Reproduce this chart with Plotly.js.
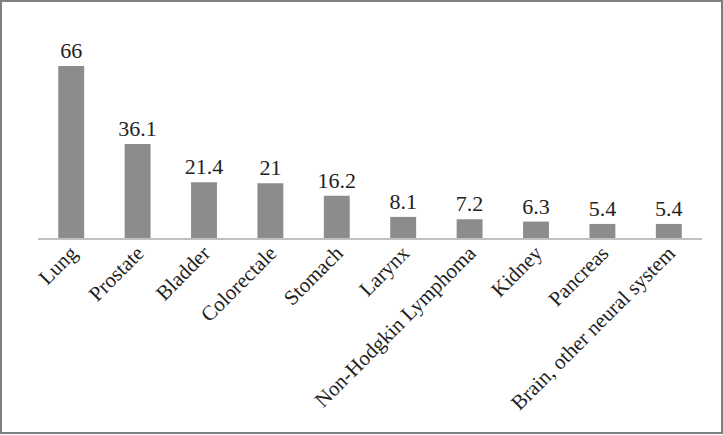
<!DOCTYPE html>
<html>
<head>
<meta charset="utf-8">
<script src="https://cdn.plot.ly/plotly-3.0.1.min.js"></script>
<style>
  html, body { margin: 0; padding: 0; background: #fff; }
  #wrap { position: relative; width: 723px; height: 435px; }
  #chart { position: absolute; left: 0; top: 0; width: 723px; height: 435px; }
  #frame { position: absolute; left: 0; top: 0; width: 723px; height: 434px; box-sizing: border-box;
           border: 2px solid #7f7f7f; pointer-events: none; }
</style>
</head>
<body>
<div id="wrap">
  <div id="chart"></div>
  <div id="frame"></div>
</div>
<script>
const categories = ["Lung", "Prostate", "Bladder", "Colorectale", "Stomach", "Larynx",
  "Non-Hodgkin Lymphoma", "Kidney", "Pancreas", "Brain, other neural system"];
const values = [66, 36.1, 21.4, 21, 16.2, 8.1, 7.2, 6.3, 5.4, 5.4];
const valueLabels = ["66", "36.1", "21.4", "21", "16.2", "8.1", "7.2", "6.3", "5.4", "5.4"];

const serif = "Liberation Serif";
const labelFont = { family: serif, size: 22, color: "#222" };

Plotly.newPlot("chart", [{
  type: "bar",
  x: categories,
  y: values,
  text: valueLabels,
  textposition: "outside",
  constraintext: "none",
  cliponaxis: false,
  textfont: labelFont,
  outsidetextfont: labelFont,
  marker: { color: "#8c8c8c", line: { width: 0 } },
  hoverinfo: "none"
}], {
  width: 723, height: 435,
  margin: { l: 38, r: 21, t: 56, b: 197 },
  paper_bgcolor: "#fff", plot_bgcolor: "#fff",
  bargap: 0.61,
  showlegend: false,
  font: { family: serif, color: "#222" },
  xaxis: {
    type: "category",
    tickangle: -45,
    tickfont: { family: serif, size: 21, color: "#222" },
    ticklabelstandoff: -7,
    showline: true, linecolor: "#c0c0c0", linewidth: 1.5,
    ticks: "", showgrid: false, zeroline: false,
    automargin: false
  },
  yaxis: {
    range: [0, 69.84],
    visible: false, showgrid: false, zeroline: false
  }
}, { displayModeBar: false, staticPlot: true });
</script>
</body>
</html>
